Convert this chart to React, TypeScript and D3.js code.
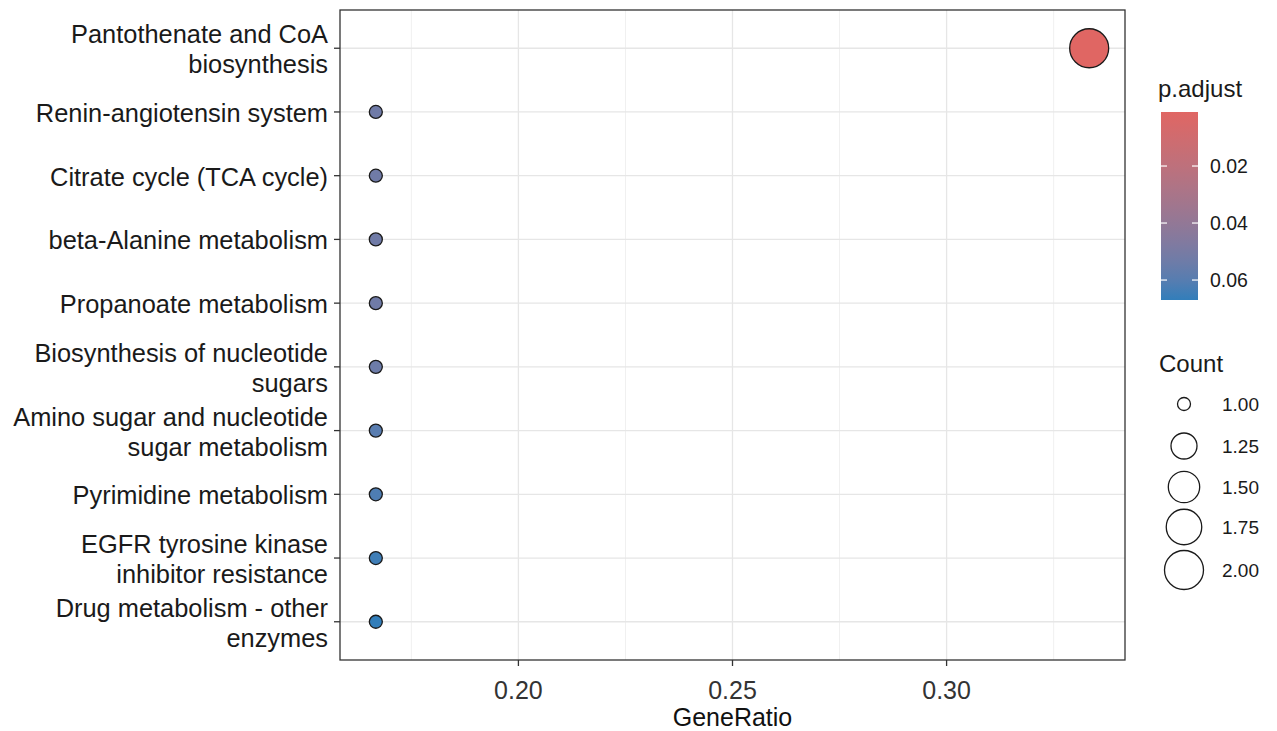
import { useEffect, useRef } from "react";
import * as d3 from "d3";

// pathway terms, top to bottom
const terms = [
  ["Pantothenate and CoA", "biosynthesis"],
  ["Renin-angiotensin system"],
  ["Citrate cycle (TCA cycle)"],
  ["beta-Alanine metabolism"],
  ["Propanoate metabolism"],
  ["Biosynthesis of nucleotide", "sugars"],
  ["Amino sugar and nucleotide", "sugar metabolism"],
  ["Pyrimidine metabolism"],
  ["EGFR tyrosine kinase", "inhibitor resistance"],
  ["Drug metabolism - other", "enzymes"],
];
const geneRatio = [0.3333, 0.1667, 0.1667, 0.1667, 0.1667, 0.1667, 0.1667, 0.1667, 0.1667, 0.1667];
const counts = [2, 1, 1, 1, 1, 1, 1, 1, 1, 1];
const pAdjust = [0.00105, 0.053, 0.053, 0.053, 0.053, 0.054, 0.0595, 0.062, 0.065, 0.067];

const xTicks = [0.2, 0.25, 0.3];
const xMinor = [0.175, 0.225, 0.275, 0.325];
const colorTicks = [0.02, 0.04, 0.06];
const sizeBreaks = [1.0, 1.25, 1.5, 1.75, 2.0];

function App() {
  const ref = useRef(null);

  useEffect(() => {
    const svg = d3.select(ref.current);
    svg.selectAll("*").remove();
    const font = "'Liberation Sans', Arial, sans-serif";

    const margin = { top: 10, right: 152, bottom: 71, left: 340 };
    const W = 1277, H = 731;
    const left = margin.left, right = W - margin.right;
    const top = margin.top, bottom = H - margin.bottom;

    const keys = terms.map((t) => t.join(" "));
    const x = d3
      .scaleLinear()
      .domain([1 / 6 - 1 / 120, 1 / 3 + 1 / 120])
      .range([left, right]);
    const y = d3.scalePoint().domain(keys).range([top, bottom]).padding(0.6);

    const pExt = d3.extent(pAdjust);
    const color = d3
      .scaleLinear()
      .domain(pExt)
      .range(["#e06663", "#327eba"])
      .interpolate(d3.interpolateLab);

    const sizeT = d3.scaleLinear().domain([1, 2]).range([0, 1]);
    const radius = d3.scaleLinear().domain([0, 1]).range([6.5, 19.5]);
    const r = (c) => radius(Math.sqrt(sizeT(c)));

    const g = svg.append("g");

    // panel background + grid
    g.append("rect").attr("x", left).attr("y", top).attr("width", right - left).attr("height", bottom - top).attr("fill", "white");
    g.selectAll(".minor").data(xMinor).enter().append("line")
      .attr("x1", (d) => x(d)).attr("x2", (d) => x(d)).attr("y1", top).attr("y2", bottom)
      .attr("stroke", "#f0f0f0").attr("stroke-width", 1);
    g.selectAll(".major").data(xTicks).enter().append("line")
      .attr("x1", (d) => x(d)).attr("x2", (d) => x(d)).attr("y1", top).attr("y2", bottom)
      .attr("stroke", "#e6e6e6").attr("stroke-width", 1.3);
    g.selectAll(".hgrid").data(keys).enter().append("line")
      .attr("x1", left).attr("x2", right).attr("y1", (d) => y(d)).attr("y2", (d) => y(d))
      .attr("stroke", "#e6e6e6").attr("stroke-width", 1.3);

    // points
    g.selectAll("circle.pt").data(keys).enter().append("circle")
      .attr("cx", (d, i) => x(geneRatio[i]))
      .attr("cy", (d) => y(d))
      .attr("r", (d, i) => r(counts[i]))
      .attr("fill", (d, i) => color(pAdjust[i]))
      .attr("stroke", "#1a1a1a").attr("stroke-width", 1.3);

    // panel border
    g.append("rect").attr("x", left).attr("y", top).attr("width", right - left).attr("height", bottom - top)
      .attr("fill", "none").attr("stroke", "#333").attr("stroke-width", 1.3);

    // x axis
    const xa = g.append("g");
    xa.selectAll("line").data(xTicks).enter().append("line")
      .attr("x1", (d) => x(d)).attr("x2", (d) => x(d)).attr("y1", bottom).attr("y2", bottom + 6)
      .attr("stroke", "#333").attr("stroke-width", 1.3);
    xa.selectAll("text").data(xTicks).enter().append("text")
      .attr("x", (d) => x(d)).attr("y", bottom + 39)
      .attr("text-anchor", "middle").attr("font-family", font).attr("font-size", 25).attr("fill", "#333")
      .text((d) => d3.format(".2f")(d));
    g.append("text").attr("x", (left + right) / 2).attr("y", bottom + 66)
      .attr("text-anchor", "middle").attr("font-family", font).attr("font-size", 25).attr("fill", "#111")
      .text("GeneRatio");

    // y axis
    const ya = g.append("g");
    ya.selectAll("line").data(keys).enter().append("line")
      .attr("x1", left - 6).attr("x2", left).attr("y1", (d) => y(d)).attr("y2", (d) => y(d))
      .attr("stroke", "#333").attr("stroke-width", 1.3);
    const lineH = 30;
    terms.forEach((t, i) => {
      const cy = y(keys[i]);
      const txt = ya.append("text").attr("text-anchor", "end")
        .attr("font-family", font).attr("font-size", 25.4).attr("fill", "#1a1a1a");
      t.forEach((line, j) => {
        const off = (j - (t.length - 1) / 2) * lineH;
        txt.append("tspan").attr("x", left - 12).attr("y", cy + off + 10).text(line);
      });
    });

    // color legend
    const cbX = 1161, cbW = 37, cbTop = 112, cbBot = 300;
    const cy = d3.scaleLinear().domain(pExt).range([cbTop, cbBot]);
    const defs = svg.append("defs");
    const grad = defs.append("linearGradient").attr("id", "pgrad").attr("x1", 0).attr("x2", 0).attr("y1", 0).attr("y2", 1);
    d3.range(0, 1.0001, 0.1).forEach((t) => {
      grad.append("stop").attr("offset", t).attr("stop-color", color(pExt[0] + t * (pExt[1] - pExt[0])));
    });
    g.append("text").attr("x", 1158).attr("y", 97).attr("font-family", font).attr("font-size", 24).attr("fill", "#1a1a1a").text("p.adjust");
    g.append("rect").attr("x", cbX).attr("y", cbTop).attr("width", cbW).attr("height", cbBot - cbTop).attr("fill", "url(#pgrad)");
    colorTicks.forEach((v) => {
      g.append("line").attr("x1", cbX).attr("x2", cbX + 6).attr("y1", cy(v)).attr("y2", cy(v)).attr("stroke", "white").attr("stroke-width", 1.2);
      g.append("line").attr("x1", cbX + cbW - 6).attr("x2", cbX + cbW).attr("y1", cy(v)).attr("y2", cy(v)).attr("stroke", "white").attr("stroke-width", 1.2);
      g.append("text").attr("x", 1210).attr("y", cy(v) + 7).attr("font-family", font).attr("font-size", 19.5).attr("fill", "#1a1a1a")
        .text(d3.format(".2f")(v));
    });

    // size legend
    g.append("text").attr("x", 1159).attr("y", 372).attr("font-family", font).attr("font-size", 24).attr("fill", "#1a1a1a").text("Count");
    const sizeY = [404, 446, 487, 527, 570];
    sizeBreaks.forEach((c, i) => {
      g.append("circle").attr("cx", 1184).attr("cy", sizeY[i]).attr("r", r(c))
        .attr("fill", "none").attr("stroke", "#1a1a1a").attr("stroke-width", 1.3);
      g.append("text").attr("x", 1222).attr("y", sizeY[i] + 7).attr("font-family", font).attr("font-size", 19).attr("fill", "#1a1a1a")
        .text(d3.format(".2f")(c));
    });

    return () => {
      svg.selectAll("*").remove();
    };
  });

  return (
    <svg
      ref={ref}
      width={1277}
      height={731}
      style={{ position: "absolute", left: 0, top: 0, background: "white" }}
    />
  );
}

export default App;
